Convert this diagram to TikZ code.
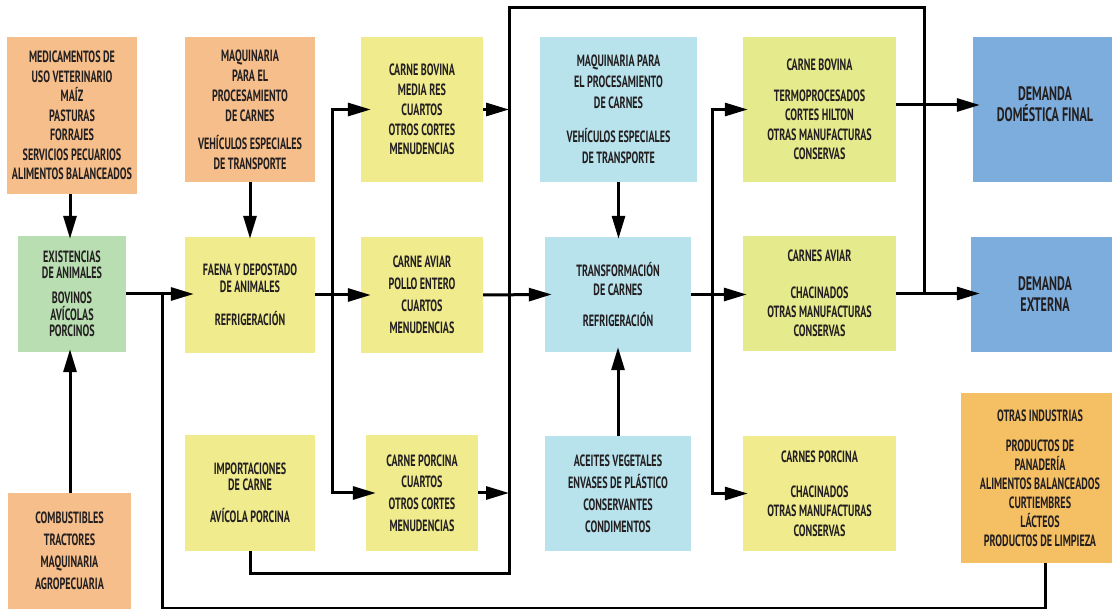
\documentclass[tikz,border=0pt]{standalone}
\usepackage{fontspec}
\setmainfont{PT Sans}[UprightFont=* Bold,FakeStretch=0.62]
\usetikzlibrary{arrows.meta}
\definecolor{txt}{HTML}{231F20}
\definecolor{corange}{HTML}{F5BE8A}
\definecolor{cyellow}{HTML}{F0EC8E}
\definecolor{cyg}{HTML}{E5EA8C}
\definecolor{clblue}{HTML}{B8E2EC}
\definecolor{cblue}{HTML}{7DADDD}
\definecolor{cgreen}{HTML}{B8DEB2}
\definecolor{corange2}{HTML}{F5C064}
\newcommand{\fs}[2]{\fontsize{#1}{#2}\selectfont}
\begin{document}
\begin{tikzpicture}[x=1pt,y=-1pt,
  box/.style={draw=none, inner sep=0pt, align=center, text=txt, font=\fs{16.3}{19.5}},
  ln/.style={line width=3pt, black},
  arr/.style={ln, -{Triangle[length=23pt,width=13pt]}},
]
\useasboundingbox (0,0) rectangle (1112,609);

% top row
\node[box, fill=corange, minimum width=130pt, minimum height=157pt] (med) at (72,115.5)
  {MEDICAMENTOS DE\\USO VETERINARIO\\MAÍZ\\PASTURAS\\FORRAJES\\SERVICIOS PECUARIOS\\ALIMENTOS BALANCEADOS};
\node[box, fill=corange, minimum width=130pt, minimum height=145pt, font=\fs{16.3}{20}] (maq) at (250,109.5)
  {MAQUINARIA\\PARA EL\\PROCESAMIENTO\\DE CARNES\\[8pt]VEHÍCULOS ESPECIALES\\DE TRANSPORTE};
\node[box, fill=cyellow, minimum width=122pt, minimum height=145pt, font=\fs{16.3}{19.8}] (cbov) at (422,109.5)
  {CARNE BOVINA\\MEDIA RES\\CUARTOS\\OTROS CORTES\\MENUDENCIAS};
\node[box, fill=clblue, minimum width=157pt, minimum height=145pt, font=\fs{16.3}{21}] (maqb) at (618.5,109.5)
  {MAQUINARIA PARA\\EL PROCESAMIENTO\\DE CARNES\\[13pt]VEHÍCULOS ESPECIALES\\DE TRANSPORTE};
\node[box, fill=cyg, minimum width=153pt, minimum height=145pt] (cbt) at (819.5,109.5)
  {CARNE BOVINA\\[11.5pt]TERMOPROCESADOS\\CORTES HILTON\\OTRAS MANUFACTURAS\\CONSERVAS};
\node[box, fill=cblue, minimum width=144pt, minimum height=145pt, font=\fs{19.5}{21}] (ddf) at (1045,109.5)
  {DEMANDA\\DOMÉSTICA FINAL\\[-11pt]\mbox{}};

% middle row
\node[box, fill=cgreen, minimum width=108pt, minimum height=116pt, font=\fs{16.3}{16.5}] (exi) at (72,294)
  {EXISTENCIAS\\DE ANIMALES\\[8.5pt]BOVINOS\\AVÍCOLAS\\PORCINOS};
\node[box, fill=cyellow, minimum width=130pt, minimum height=116pt, font=\fs{16.3}{16.5}] (fae) at (250,295)
  {FAENA Y DEPOSTADO\\DE ANIMALES\\[16.5pt]REFRIGERACIÓN};
\node[box, fill=cyellow, minimum width=122pt, minimum height=116pt, font=\fs{16.3}{22}] (cav) at (422,295)
  {CARNE AVIAR\\POLLO ENTERO\\CUARTOS\\MENUDENCIAS};
\node[box, fill=clblue, minimum width=146pt, minimum height=115pt, font=\fs{16.3}{19}] (tra) at (618,294.5)
  {TRANSFORMACIÓN\\DE CARNES\\[12pt]REFRIGERACIÓN};
\node[box, fill=cyg, minimum width=153pt, minimum height=115pt, font=\fs{16.3}{19}] (cas) at (819.5,293.5)
  {CARNES AVIAR\\[18pt]CHACINADOS\\OTRAS MANUFACTURAS\\CONSERVAS};
\node[box, fill=cblue, minimum width=148pt, minimum height=115pt, font=\fs{19.5}{21}] (dex) at (1045,294.5)
  {DEMANDA\\EXTERNA};

% bottom row
\node[box, fill=corange, minimum width=123pt, minimum height=116pt, font=\fs{16.3}{22}] (com) at (69.5,551)
  {COMBUSTIBLES\\TRACTORES\\MAQUINARIA\\AGROPECUARIA};
\node[box, fill=cyellow, minimum width=130pt, minimum height=116pt, font=\fs{16.3}{16.5}] (imp) at (250,493)
  {IMPORTACIONES\\DE CARNE\\[15.5pt]AVÍCOLA PORCINA};
\node[box, fill=cyellow, minimum width=112pt, minimum height=116pt, font=\fs{16.3}{21.7}] (cpo) at (422,493)
  {CARNE PORCINA\\CUARTOS\\OTROS CORTES\\MENUDENCIAS};
\node[box, fill=clblue, minimum width=146pt, minimum height=115pt, font=\fs{16.3}{22}] (ace) at (618,493.5)
  {ACEITES VEGETALES\\ENVASES DE PLÁSTICO\\CONSERVANTES\\CONDIMENTOS};
\node[box, fill=cyellow, minimum width=153pt, minimum height=115pt, font=\fs{16.3}{19.5}] (cpr) at (819.5,493.5)
  {CARNES PORCINA\\[15.5pt]CHACINADOS\\OTRAS MANUFACTURAS\\CONSERVAS};
\node[box, fill=corange2, minimum width=158pt, minimum height=170pt, font=\fs{16.3}{19}] (otr) at (1040,478)
  {OTRAS INDUSTRIAS\\[11pt]PRODUCTOS DE\\PANADERÍA\\ALIMENTOS BALANCEADOS\\CURTIEMBRES\\LÁCTEOS\\PRODUCTOS DE LIMPIEZA};

% junction coordinates
\coordinate (jA) at (162,294);
\coordinate (bA) at (162,608);
\coordinate (vA) at (332,294);
\coordinate (bB) at (509,573);
\coordinate (tB) at (509,8);
\coordinate (tC) at (924,8);
\coordinate (jC) at (924,293.5);
\coordinate (vD) at (712,294);

% connectors
\draw[arr, shorten >=-3pt] ([xshift=-2pt]med.south) -- ([xshift=-2pt]exi.north);
\draw[arr, shorten >=-3pt] ([xshift=0.5pt]com.north) -- ([xshift=0.5pt]com.north |- exi.south);
\draw[arr, shorten >=-2pt] (maq.south) -- (fae.north);
\draw[arr, shorten >=-9pt] (exi.east) -- (exi.east -| fae.west);
\draw[ln] ([xshift=5pt]otr.south) |- (bA) -- (jA);
\draw[arr, shorten >=-10pt] (fae.east) -- (cav.west);
\draw[arr, shorten >=-10pt] (vA) |- (cbov.west);
\draw[arr, shorten >=-10pt] (vA) |- (cpo.west);
\draw[arr] (cbov.east) -- (cbov.east -| bB);
\draw[arr] (cpo.east) -- (cpo.east -| bB);
\draw[ln] (imp.south) |- (bB) -- (tB) -- (tC) -- (jC);
\draw[arr, shorten >=-7pt] (cav.east) -- (tra.west);
\draw[arr, shorten >=-2pt] (maqb.south) -- (maqb.south |- tra.north);
\draw[arr, shorten >=-5pt] (ace.north) -- (tra.south);
\draw[arr, shorten >=-4pt] (tra.east) -- (tra.east -| cas.west);
\draw[arr, shorten >=-5pt] (vD) |- (cbt.west);
\draw[arr, shorten >=-5pt] (vD) |- (cpr.west);
\draw[arr, shorten >=-7pt] ([yshift=4.5pt]cbt.east) -- ([yshift=4.5pt]cbt.east -| ddf.west);
\draw[arr, shorten >=-9pt] (cas.east) -- (cas.east -| dex.west);
\end{tikzpicture}
\end{document}
